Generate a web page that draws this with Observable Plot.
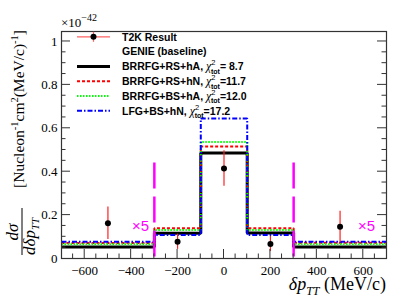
<!DOCTYPE html>
<html><head><meta charset="utf-8">
<script src="https://cdn.jsdelivr.net/npm/d3@7"></script>
<script src="https://cdn.jsdelivr.net/npm/@observablehq/plot@0.6"></script>
<style>body{margin:0;background:#fff} svg{display:block}</style>
</head><body><div id="c"></div>
<script>
// ---- data ----
const binEdges = [-700, -300, -100, 100, 300, 700];
const brrfgRsHa = [0.053, 0.116, 0.486, 0.118, 0.053];
const brrfgRsHn = [0.072, 0.139, 0.516, 0.139, 0.073];
const brrfgBsHa = [0.066, 0.131, 0.537, 0.131, 0.066];
const lfgBsHn   = [0.077, 0.108, 0.645, 0.108, 0.077];
const dataX   = [-500, -200, 0, 200, 500];
const dataY   = [0.162, 0.077, 0.415, 0.067, 0.146];
const dataErr = [0.075, 0.035, 0.082, 0.035, 0.072];
const scaledEdges = [-300, 300];
const scaledLineTop = 0.44;
const x5LabelX = [-360, 614];
const x5LabelY = 0.15;
const xTickLabels = [-600, -400, -200, 0, 200, 400, 600];
const yTickLabels = [0, 0.2, 0.4, 0.6, 0.8, 1];
const legendLabels = ["T2K Result", "GENIE (baseline)", "BRRFG+RS+hA, ", "BRRFG+RS+hN, ", "BRRFG+BS+hA, ", "LFG+BS+hN, "];
const chi2Labels = [null, null, "= 8.7", "=11.7", "=12.0", "=17.2"];

// ---- build ----
const series = [
  {vals: brrfgRsHa, stroke: "#000000", w: 3, dash: null},
  {vals: brrfgRsHn, stroke: "#ff0000", w: 2, dash: "3,2"},
  {vals: brrfgBsHa, stroke: "#00ff00", w: 2, dash: "1.5,1.5"},
  {vals: lfgBsHn,   stroke: "#0000ff", w: 2, dash: "5,2,1.5,2"}
];
const stepPts = vals => vals.flatMap((v, i) => [{x: binEdges[i], y: v}, {x: binEdges[i + 1], y: v}]);
const points = dataX.map((x, i) => ({x, y: dataY[i], e: dataErr[i]}));
const x5 = x5LabelX.map(x => ({x, y: x5LabelY}));
const fmtX = d => d < 0 ? "\u2212" + (-d) : String(d);
const fmtY = d => d === 0 ? "0" : d === 1 ? "1" : d.toFixed(1);

const chart = Plot.plot({
  width: 407, height: 305,
  marginLeft: 61, marginRight: 21, marginTop: 31, marginBottom: 47,
  style: {fontFamily: "'Liberation Serif','Times New Roman',serif", fontSize: "13px", background: "#fff", color: "#000", overflow: "visible"},
  x: {domain: [-700, 700]},
  y: {domain: [0, 1.046]},
  marks: [
    Plot.axisY({ticks: yTickLabels, tickSize: 0, tickPadding: 4, tickFormat: fmtY, label: null, fontSize: 13}),
    Plot.axisX({ticks: xTickLabels, tickSize: 0, tickPadding: 7, tickFormat: fmtX, label: null, fontSize: 13}),
    ...series.map(s => Plot.line(stepPts(s.vals), {x: "x", y: "y", stroke: s.stroke, strokeWidth: s.w, strokeDasharray: s.dash, strokeLinejoin: "miter", strokeLinecap: "butt"})),
    Plot.ruleX(scaledEdges, {x: d => d, y1: scaledLineTop, y2: 0, stroke: "#ff00ff", strokeWidth: 2.5, strokeDasharray: "26,8"}),
    Plot.ruleX(points, {x: "x", y1: d => d.y - d.e, y2: d => d.y + d.e, stroke: "#ff2020", strokeWidth: 1.2}),
    Plot.dot(points, {x: "x", y: "y", r: 3, fill: "#000", stroke: "none"}),
    Plot.text(x5, {x: "x", y: "y", text: () => "\u00d75", fill: "#ff00ff", fontSize: 15, fontFamily: "'Liberation Sans',Arial,sans-serif"}),
    Plot.frame({stroke: "#333", strokeWidth: 1.2})
  ]
});
document.getElementById("c").appendChild(chart);

const svg = d3.select(chart);
const xs = chart.scale("x"), ys = chart.scale("y");
const X0 = xs.range[0], X1 = xs.range[1], Y0 = ys.range[0], Y1 = ys.range[1];
const sx = v => xs.apply(v), sy = v => ys.apply(v);
const g = svg.append("g").attr("stroke", "#333").attr("stroke-width", 1);
// x ticks (inside, bottom)
for (let v = -650; v <= 650; v += 50) {
  const major = v % 200 === 0;
  const len = major ? 9 : 4.5;
  g.append("line").attr("x1", sx(v)).attr("x2", sx(v)).attr("y1", Y0).attr("y2", Y0 - len);
}
// y ticks (inside, left and right)
for (let i = 1; i <= 20; i++) {
  const v = i * 0.05;
  if (v > 1.046) break;
  const major = i % 4 === 0;
  const len = major ? 9 : 4.5;
  g.append("line").attr("x1", X0).attr("x2", X0 + len).attr("y1", sy(v)).attr("y2", sy(v));
  g.append("line").attr("x1", X1).attr("x2", X1 - len).attr("y1", sy(v)).attr("y2", sy(v));
}

// exponent label
const serif = "'Liberation Serif','Times New Roman',serif";
const sans = "'Liberation Sans',Arial,sans-serif";
const ex = svg.append("text").attr("x", X0).attr("y", 27).attr("text-anchor", "start").attr("font-family", serif).attr("font-size", 13).attr("fill", "#000");
ex.append("tspan").text("\u00d710");
ex.append("tspan").attr("dy", -6).attr("font-size", 10).text("\u221242");

// x title
const xt = svg.append("text").attr("x", X1).attr("y", 290).attr("text-anchor", "end").attr("font-family", serif).attr("font-size", 18).attr("fill", "#000");
xt.append("tspan").attr("font-style", "italic").text("\u03b4p");
xt.append("tspan").attr("font-style", "italic").attr("font-size", 12).attr("dy", 5).text("TT");
xt.append("tspan").attr("dy", -5).text(" (MeV/c)");

// y title (rotated)
const yt = svg.append("g").attr("transform", "rotate(-90)").attr("font-family", serif).attr("fill", "#000");
yt.append("text").attr("x", -232).attr("y", 18).attr("text-anchor", "middle").attr("font-size", 17).attr("font-style", "italic").text("d\u03c3");
yt.append("line").attr("x1", -255).attr("x2", -208).attr("y1", 22).attr("y2", 22).attr("stroke", "#000").attr("stroke-width", 1);
const den = yt.append("text").attr("x", -255).attr("y", 35).attr("text-anchor", "start").attr("font-size", 17).attr("font-style", "italic");
den.append("tspan").text("d\u03b4p");
den.append("tspan").attr("font-size", 11).attr("dy", 4).text("TT");
const br = yt.append("text").attr("x", -30).attr("y", 24).attr("text-anchor", "end").attr("font-size", 15.5);
br.append("tspan").text("[Nucleon");
br.append("tspan").attr("font-size", 10.5).attr("dy", -6).text("-1");
br.append("tspan").attr("dy", 6).text("cm");
br.append("tspan").attr("font-size", 10.5).attr("dy", -6).text("2");
br.append("tspan").attr("dy", 6).text("(MeV/c)");
br.append("tspan").attr("font-size", 10.5).attr("dy", -6).text("-1");
br.append("tspan").attr("dy", 6).text("]");

// legend
const LX0 = 77, LX1 = 110, TX = 122;
const ly = i => 36.8 + i * 14.8;
const lg = svg.append("g");
lg.append("line").attr("x1", LX0).attr("x2", LX1).attr("y1", ly(0)).attr("y2", ly(0)).attr("stroke", "#ff6060").attr("stroke-width", 1.2);
lg.append("line").attr("x1", (LX0 + LX1) / 2).attr("x2", (LX0 + LX1) / 2).attr("y1", ly(0) - 5).attr("y2", ly(0) + 5).attr("stroke", "#ff6060").attr("stroke-width", 1.2);
lg.append("circle").attr("cx", (LX0 + LX1) / 2).attr("cy", ly(0)).attr("r", 3).attr("fill", "#000");
series.forEach((s, k) => {
  const i = k + 2;
  lg.append("line").attr("x1", LX0).attr("x2", LX1).attr("y1", ly(i)).attr("y2", ly(i)).attr("stroke", s.stroke).attr("stroke-width", s.w).attr("stroke-dasharray", s.dash);
});
legendLabels.forEach((lab, i) => {
  const t = lg.append("text").attr("x", TX).attr("y", ly(i) + 3.8).attr("text-anchor", "start").attr("font-family", sans).attr("font-weight", "bold").attr("font-size", 10.5).attr("fill", "#000");
  t.append("tspan").text(lab);
  if (chi2Labels[i]) {
    t.append("tspan").attr("font-family", serif).attr("font-style", "italic").attr("font-weight", "normal").attr("font-size", 12).text("\u03c7");
    t.append("tspan").attr("font-family", sans).attr("font-weight", "normal").attr("font-size", 7.5).attr("dy", -5).text("2");
    t.append("tspan").attr("font-family", sans).attr("font-size", 7).attr("dx", -4.5).attr("dy", 8.5).text("tot");
    t.append("tspan").attr("dy", -3.5).text(chi2Labels[i]);
  }
});
</script></body></html>
